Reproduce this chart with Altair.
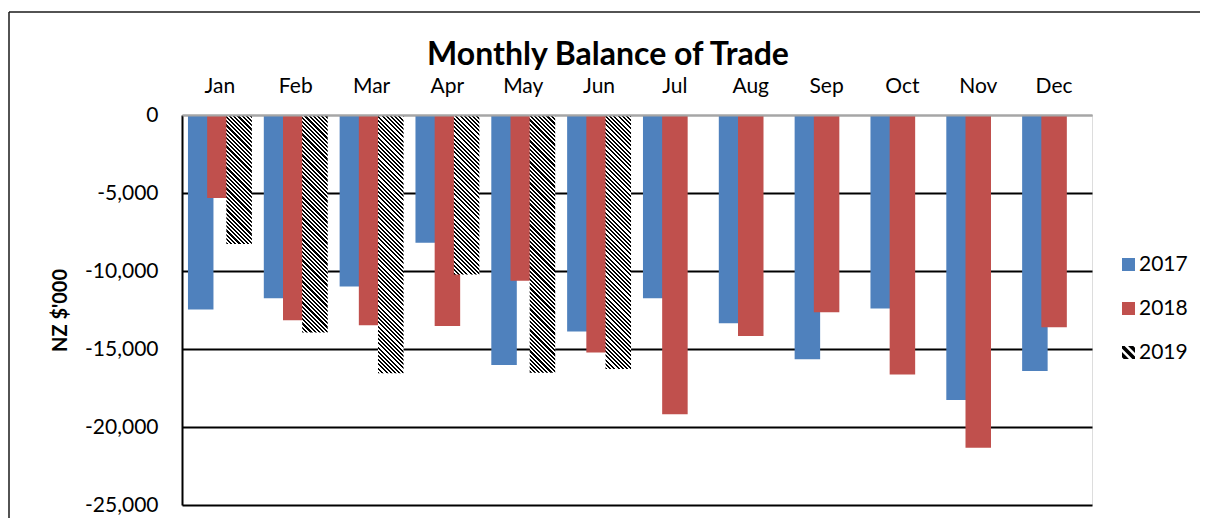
import math
import altair as alt
import pandas as pd

# ---------------- data ----------------
MONTHS = ["Jan", "Feb", "Mar", "Apr", "May", "Jun", "Jul", "Aug", "Sep", "Oct", "Nov", "Dec"]
YEARS = ["2017", "2018", "2019"]
V2017 = [-12470, -11750, -11000, -8190, -16030, -13880, -11750, -13350, -15650, -12410, -18270, -16410]
V2018 = [-5320, -13150, -13480, -13520, -10630, -15230, -19180, -14160, -12640, -16630, -21330, -13610]
V2019 = [-8270, -13950, -16560, -10230, -16520, -16290]
Y_TICKS = [-25000, -20000, -15000, -10000, -5000, 0]
TITLE = "Monthly Balance of Trade"
Y_TITLE = "NZ $'000"

rows = []
for yr, vals in zip(YEARS, [V2017, V2018, V2019]):
    for m, v in zip(MONTHS, vals):
        rows.append({"month": m, "year": yr, "value": v})
df = pd.DataFrame(rows)

# ---------------- style ----------------
W, H = 910, 390
PAD = {"left": 174, "top": 107, "right": 108, "bottom": 13}
BAR_W = 25.5
Y_MIN = -25000
FONT = "Lato"
BLUE, RED, BLACK = "#4F81BD", "#C0504D", "#000000"


def hatch_gradient(value, period=4.2):
    """Diagonal black/white stripes for a bar of the given value (bbox gradient)."""
    h = abs(value) / abs(Y_MIN) * H
    w = BAR_W
    L = w + h
    s = L / (w * w + h * h)
    half = period / 2.0
    n = int(math.ceil(L / half))
    stops = []
    for k in range(n):
        a = k * half / L
        b = min((k + 1) * half / L, 1.0)
        c = "#000000" if k % 2 == 0 else "#FFFFFF"
        stops.append(alt.GradientStop(offset=a, color=c))
        stops.append(alt.GradientStop(offset=b, color=c))
    return alt.LinearGradient(gradient="linear", stops=stops,
                              x1=0, y1=1, x2=s * w, y2=1 - s * h)


def clip_band(a, b):
    """Polygon of {a <= x - y <= b} inside the square [-1,1]^2."""
    poly = [(-1, -1), (1, -1), (1, 1), (-1, 1)]

    def clip(pts, f):
        out = []
        for i in range(len(pts)):
            p, q = pts[i], pts[(i + 1) % len(pts)]
            fp, fq = f(p), f(q)
            if fp >= 0:
                out.append(p)
            if (fp >= 0) != (fq >= 0):
                t = fp / (fp - fq)
                out.append((p[0] + t * (q[0] - p[0]), p[1] + t * (q[1] - p[1])))
        return out

    poly = clip(poly, lambda p: (p[0] - p[1]) - a)
    poly = clip(poly, lambda p: b - (p[0] - p[1]))
    if len(poly) < 3:
        return ""
    return "M" + "L".join(f"{x:.3f},{y:.3f}" for x, y in poly) + "Z"


SQUARE = "M-1,-1L1,-1L1,1L-1,1Z"
HATCH = "".join(clip_band(c - 0.4, c + 0.4) for c in (-1.33, 0.0, 1.33))

LEG = alt.Legend(title=None, orient="none", legendX=936, legendY=139,
                 direction="vertical", symbolSize=169, labelFont=FONT,
                 labelFontSize=21, labelColor="black", rowPadding=22,
                 labelOffset=0, symbolOpacity=1, symbolStrokeWidth=0, padding=0)

x_enc = alt.X("month:N", sort=MONTHS,
              scale=alt.Scale(domain=MONTHS, paddingInner=0, paddingOuter=0),
              axis=alt.Axis(orient="top", title=None, ticks=False, labelPadding=19,
                            labelAngle=0, labelFont=FONT, labelFontSize=21,
                            labelColor="black", domainColor="#A6A6A6",
                            domainWidth=2, grid=False, zindex=1))
xo_enc = alt.XOffset("year:N",
                     scale=alt.Scale(domain=YEARS, paddingInner=0, paddingOuter=0.475))
y_enc = alt.Y("value:Q", stack=None,
              scale=alt.Scale(domain=[Y_MIN, 0], nice=False),
              axis=alt.Axis(values=Y_TICKS, format=",d",
                            labelExpr="replace(datum.label, '\u2212', '-')",
                            title=Y_TITLE, titleFont=FONT, titleFontSize=20,
                            titleFontWeight="bold", titleColor="black",
                            titleX=-122, titleY=H / 2, titleAngle=270,
                            titleAlign="center", titleBaseline="middle",
                            ticks=False, labelPadding=24, labelFont=FONT,
                            labelFontSize=21, labelColor="black",
                            domainColor="black", domainWidth=2,
                            grid=True, gridWidth=2,
                            gridColor=alt.condition("datum.value === 0",
                                                    alt.value("#A6A6A6"),
                                                    alt.value("black"))))

color_scale = alt.Scale(domain=YEARS, range=[BLUE, RED, BLACK])
one = pd.DataFrame({"k": [0]})

# outer chart-area frame (top and left edges), kept inside the drawing area
RIGHT_EDGE = W + PAD["right"]
BOTTOM_EDGE = H + PAD["bottom"]
frame_top = alt.Chart(one).mark_rule(color="#1a1a1a", strokeWidth=1.5).encode(
    x=alt.value(-173), x2=alt.value(RIGHT_EDGE), y=alt.value(-103))
frame_left = alt.Chart(one).mark_rule(color="#1a1a1a", strokeWidth=1.5).encode(
    x=alt.value(-173), y=alt.value(-103), y2=alt.value(BOTTOM_EDGE))

title = alt.Chart(one).mark_text(
    text=TITLE, font=FONT, fontSize=32, fontWeight="bold", color="black",
    align="center", baseline="alphabetic"
).encode(x=alt.value(426), y=alt.value(-50))

base = alt.Chart(df)

bars2017 = base.transform_filter("datum.year === '2017'").mark_bar(
    width=BAR_W, color=BLUE).encode(x=x_enc, xOffset=xo_enc, y=y_enc)
bars2018 = base.transform_filter("datum.year === '2018'").mark_bar(
    width=BAR_W, color=RED).encode(x=x_enc, xOffset=xo_enc, y=y_enc)

hatch_layers = []
for m, v in zip(MONTHS, V2019):
    hatch_layers.append(
        base.transform_filter(f"datum.year === '2019' && datum.month === '{m}'")
        .mark_bar(width=BAR_W, fill=hatch_gradient(v), strokeWidth=0)
        .encode(x=x_enc, xOffset=xo_enc, y=y_enc)
    )

legend_pts = base.mark_point(filled=True, opacity=0).encode(
    x=x_enc, y=y_enc,
    color=alt.Color("year:N", scale=color_scale, legend=LEG),
    shape=alt.Shape("year:N", scale=alt.Scale(domain=YEARS, range=[SQUARE, SQUARE, HATCH]),
                    legend=LEG),
)

chart = alt.layer(frame_top, frame_left, bars2017, bars2018, *hatch_layers,
                  legend_pts, title).properties(
    width=W, height=H,
    autosize=alt.AutoSizeParams(type="none"),
    padding=PAD,
).configure_view(stroke="black", strokeWidth=2).configure(background="white")

chart.save("out.html", embed_options={"renderer": "svg", "actions": False})
